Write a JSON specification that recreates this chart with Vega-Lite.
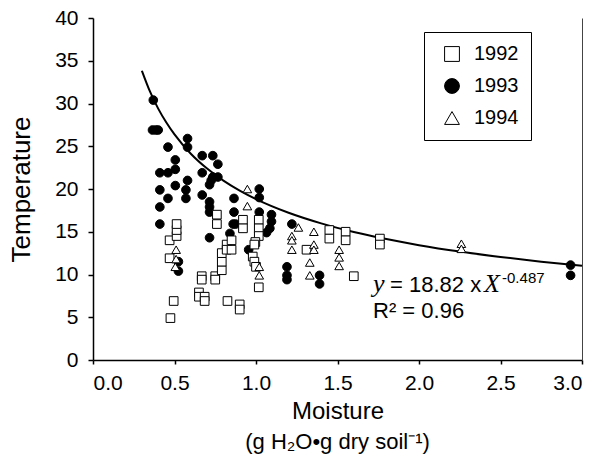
{
  "$schema": "https://vega.github.io/schema/vega-lite/v6.json",
  "width": 489,
  "height": 342,
  "autosize": "none",
  "padding": {"left": 93, "top": 18, "right": 17, "bottom": 100},
  "background": "white",
  "config": {
    "view": {"stroke": null},
    "font": "Liberation Sans",
    "axis": {"grid": false, "domainColor": "black", "tickColor": "black", "labelColor": "black", "titleColor": "black", "labelFont": "Liberation Sans", "titleFont": "Liberation Sans", "titleFontWeight": "normal"}
  },
  "title": {"text": "(g H₂O•g dry soil⁻¹)", "orient": "bottom", "fontSize": 22, "fontWeight": "normal", "font": "Liberation Sans", "color": "black", "offset": 9, "anchor": "middle"},
  "layer": [
    {
      "data": {"values": [
        {"moisture": 0.30, "temperature": 33.83},
        {"moisture": 0.35, "temperature": 31.38},
        {"moisture": 0.40, "temperature": 29.40},
        {"moisture": 0.45, "temperature": 27.77},
        {"moisture": 0.50, "temperature": 26.38},
        {"moisture": 0.60, "temperature": 24.13},
        {"moisture": 0.70, "temperature": 22.39},
        {"moisture": 0.80, "temperature": 20.98},
        {"moisture": 0.90, "temperature": 19.81},
        {"moisture": 1.00, "temperature": 18.82},
        {"moisture": 1.20, "temperature": 17.22},
        {"moisture": 1.40, "temperature": 15.98},
        {"moisture": 1.60, "temperature": 14.97},
        {"moisture": 1.80, "temperature": 14.14},
        {"moisture": 2.00, "temperature": 13.43},
        {"moisture": 2.25, "temperature": 12.68},
        {"moisture": 2.50, "temperature": 12.05},
        {"moisture": 2.75, "temperature": 11.50},
        {"moisture": 3.00, "temperature": 11.02}
      ]},
      "mark": {"type": "line", "color": "black", "strokeWidth": 2, "interpolate": "monotone"},
      "encoding": {
        "x": {"field": "moisture", "type": "quantitative", "scale": {"domain": [0, 3], "nice": false}},
        "y": {"field": "temperature", "type": "quantitative", "scale": {"domain": [0, 40], "nice": false},
              "axis": {"orient": "right", "labels": false, "ticks": false, "title": null, "domainColor": "#444", "domainWidth": 1}}
      }
    },
    {
      "data": {"values": [
        {"year": "1993", "moisture": 0.37, "temperature": 30.4},
        {"year": "1993", "moisture": 0.365, "temperature": 26.9},
        {"year": "1993", "moisture": 0.385, "temperature": 26.9},
        {"year": "1993", "moisture": 0.40, "temperature": 26.9},
        {"year": "1993", "moisture": 0.41, "temperature": 21.9},
        {"year": "1993", "moisture": 0.41, "temperature": 19.9},
        {"year": "1993", "moisture": 0.41, "temperature": 17.9},
        {"year": "1993", "moisture": 0.41, "temperature": 15.9},
        {"year": "1993", "moisture": 0.46, "temperature": 24.9},
        {"year": "1993", "moisture": 0.46, "temperature": 21.9},
        {"year": "1993", "moisture": 0.46, "temperature": 18.9},
        {"year": "1993", "moisture": 0.505, "temperature": 23.4},
        {"year": "1993", "moisture": 0.505, "temperature": 22.3},
        {"year": "1993", "moisture": 0.505, "temperature": 20.4},
        {"year": "1993", "moisture": 0.58, "temperature": 25.9},
        {"year": "1993", "moisture": 0.58, "temperature": 24.9},
        {"year": "1993", "moisture": 0.58, "temperature": 21.0},
        {"year": "1993", "moisture": 0.57, "temperature": 19.9},
        {"year": "1993", "moisture": 0.57, "temperature": 18.9},
        {"year": "1993", "moisture": 0.67, "temperature": 23.9},
        {"year": "1993", "moisture": 0.67, "temperature": 21.9},
        {"year": "1993", "moisture": 0.67, "temperature": 19.3},
        {"year": "1993", "moisture": 0.735, "temperature": 23.9},
        {"year": "1993", "moisture": 0.766, "temperature": 22.9},
        {"year": "1993", "moisture": 0.735, "temperature": 21.4},
        {"year": "1993", "moisture": 0.766, "temperature": 21.4},
        {"year": "1993", "moisture": 0.725, "temperature": 21.0},
        {"year": "1993", "moisture": 0.715, "temperature": 20.5},
        {"year": "1993", "moisture": 0.715, "temperature": 18.5},
        {"year": "1993", "moisture": 0.715, "temperature": 17.9},
        {"year": "1993", "moisture": 0.715, "temperature": 17.3},
        {"year": "1993", "moisture": 0.715, "temperature": 14.3},
        {"year": "1993", "moisture": 0.865, "temperature": 18.9},
        {"year": "1993", "moisture": 0.865, "temperature": 17.3},
        {"year": "1993", "moisture": 0.86, "temperature": 15.9},
        {"year": "1993", "moisture": 0.875, "temperature": 15.9},
        {"year": "1993", "moisture": 0.84, "temperature": 14.8},
        {"year": "1993", "moisture": 1.02, "temperature": 20.0},
        {"year": "1993", "moisture": 1.02, "temperature": 19.0},
        {"year": "1993", "moisture": 1.02, "temperature": 17.3},
        {"year": "1993", "moisture": 1.095, "temperature": 17.0},
        {"year": "1993", "moisture": 1.095, "temperature": 16.2},
        {"year": "1993", "moisture": 1.085, "temperature": 15.4},
        {"year": "1993", "moisture": 1.065, "temperature": 14.9},
        {"year": "1993", "moisture": 0.955, "temperature": 12.9},
        {"year": "1993", "moisture": 0.524, "temperature": 11.5},
        {"year": "1993", "moisture": 0.524, "temperature": 10.4},
        {"year": "1993", "moisture": 1.22, "temperature": 15.9},
        {"year": "1993", "moisture": 1.19, "temperature": 10.9},
        {"year": "1993", "moisture": 1.19, "temperature": 9.9},
        {"year": "1993", "moisture": 1.19, "temperature": 9.4},
        {"year": "1993", "moisture": 1.39, "temperature": 9.9},
        {"year": "1993", "moisture": 1.39, "temperature": 8.9},
        {"year": "1993", "moisture": 2.93, "temperature": 11.1},
        {"year": "1993", "moisture": 2.93, "temperature": 9.9},
        {"year": "1992", "moisture": 0.475, "temperature": 4.9},
        {"year": "1992", "moisture": 0.495, "temperature": 6.9},
        {"year": "1992", "moisture": 0.47, "temperature": 11.9},
        {"year": "1992", "moisture": 0.47, "temperature": 14.0},
        {"year": "1992", "moisture": 0.513, "temperature": 14.5},
        {"year": "1992", "moisture": 0.513, "temperature": 15.2},
        {"year": "1992", "moisture": 0.513, "temperature": 15.9},
        {"year": "1992", "moisture": 0.65, "temperature": 7.9},
        {"year": "1992", "moisture": 0.65, "temperature": 7.4},
        {"year": "1992", "moisture": 0.685, "temperature": 7.4},
        {"year": "1992", "moisture": 0.685, "temperature": 6.9},
        {"year": "1992", "moisture": 0.667, "temperature": 9.8},
        {"year": "1992", "moisture": 0.667, "temperature": 9.4},
        {"year": "1992", "moisture": 0.75, "temperature": 9.8},
        {"year": "1992", "moisture": 0.75, "temperature": 9.4},
        {"year": "1992", "moisture": 0.79, "temperature": 10.5},
        {"year": "1992", "moisture": 0.79, "temperature": 11.5},
        {"year": "1992", "moisture": 0.79, "temperature": 12.5},
        {"year": "1992", "moisture": 0.82, "temperature": 13.5},
        {"year": "1992", "moisture": 0.82, "temperature": 12.9},
        {"year": "1992", "moisture": 0.85, "temperature": 14.0},
        {"year": "1992", "moisture": 0.85, "temperature": 12.9},
        {"year": "1992", "moisture": 0.76, "temperature": 15.9},
        {"year": "1992", "moisture": 0.76, "temperature": 17.0},
        {"year": "1992", "moisture": 0.825, "temperature": 6.9},
        {"year": "1992", "moisture": 0.9, "temperature": 6.5},
        {"year": "1992", "moisture": 0.9, "temperature": 5.9},
        {"year": "1992", "moisture": 0.92, "temperature": 16.4},
        {"year": "1992", "moisture": 0.92, "temperature": 15.4},
        {"year": "1992", "moisture": 1.017, "temperature": 16.4},
        {"year": "1992", "moisture": 1.017, "temperature": 15.4},
        {"year": "1992", "moisture": 1.017, "temperature": 14.5},
        {"year": "1992", "moisture": 0.996, "temperature": 13.8},
        {"year": "1992", "moisture": 0.99, "temperature": 13.5},
        {"year": "1992", "moisture": 0.98, "temperature": 12.1},
        {"year": "1992", "moisture": 0.99, "temperature": 11.5},
        {"year": "1992", "moisture": 1.0, "temperature": 10.9},
        {"year": "1992", "moisture": 1.017, "temperature": 8.5},
        {"year": "1992", "moisture": 1.31, "temperature": 12.9},
        {"year": "1992", "moisture": 1.45, "temperature": 15.2},
        {"year": "1992", "moisture": 1.45, "temperature": 14.2},
        {"year": "1992", "moisture": 1.55, "temperature": 15.0},
        {"year": "1992", "moisture": 1.55, "temperature": 14.0},
        {"year": "1992", "moisture": 1.6, "temperature": 9.8},
        {"year": "1992", "moisture": 1.76, "temperature": 14.2},
        {"year": "1992", "moisture": 1.76, "temperature": 13.5},
        {"year": "1994", "moisture": 0.947, "temperature": 20.0},
        {"year": "1994", "moisture": 0.947, "temperature": 18.0},
        {"year": "1994", "moisture": 0.51, "temperature": 12.9},
        {"year": "1994", "moisture": 0.51, "temperature": 11.8},
        {"year": "1994", "moisture": 0.505, "temperature": 10.9},
        {"year": "1994", "moisture": 1.02, "temperature": 10.9},
        {"year": "1994", "moisture": 1.02, "temperature": 9.9},
        {"year": "1994", "moisture": 1.26, "temperature": 15.5},
        {"year": "1994", "moisture": 1.355, "temperature": 15.0},
        {"year": "1994", "moisture": 1.22, "temperature": 14.5},
        {"year": "1994", "moisture": 1.22, "temperature": 14.0},
        {"year": "1994", "moisture": 1.22, "temperature": 12.9},
        {"year": "1994", "moisture": 1.355, "temperature": 13.5},
        {"year": "1994", "moisture": 1.355, "temperature": 12.9},
        {"year": "1994", "moisture": 1.33, "temperature": 11.4},
        {"year": "1994", "moisture": 1.33, "temperature": 9.9},
        {"year": "1994", "moisture": 1.51, "temperature": 12.9},
        {"year": "1994", "moisture": 1.51, "temperature": 12.0},
        {"year": "1994", "moisture": 1.51, "temperature": 11.0},
        {"year": "1994", "moisture": 2.26, "temperature": 13.6},
        {"year": "1994", "moisture": 2.26, "temperature": 13.0}
      ]},
      "mark": {"type": "point", "filled": true, "size": 75, "opacity": 1},
      "encoding": {
        "x": {"field": "moisture", "type": "quantitative", "scale": {"domain": [0, 3], "nice": false},
              "axis": {"values": [0, 0.5, 1, 1.5, 2, 2.5, 3], "format": ".1f", "title": "Moisture", "labelFontSize": 21, "titleFontSize": 24, "tickSize": 4, "labelPadding": 8, "titlePadding": 6, "domainWidth": 1.5, "tickWidth": 1.5}},
        "y": {"field": "temperature", "type": "quantitative", "scale": {"domain": [0, 40], "nice": false},
              "axis": {"orient": "left", "values": [0, 5, 10, 15, 20, 25, 30, 35, 40], "title": "Temperature", "labelFontSize": 21, "titleFontSize": 26, "tickSize": 5, "labelPadding": 10, "titlePadding": 20, "domainWidth": 1.5, "tickWidth": 1.5}},
        "shape": {"field": "year", "type": "nominal", "scale": {"domain": ["1992", "1993", "1994"], "range": ["square", "circle", "triangle-up"]},
                  "legend": {"title": null, "orient": "none", "legendX": 331, "legendY": 14, "strokeColor": "black", "fillColor": "white", "padding": 12, "labelFontSize": 20, "labelColor": "black", "symbolSize": 220, "rowPadding": 12, "labelOffset": 12, "symbolStrokeWidth": 1.5, "symbolOffset": 6}},
        "fill": {"field": "year", "type": "nominal", "scale": {"domain": ["1992", "1993", "1994"], "range": ["white", "black", "white"]},
                 "legend": {"title": null, "orient": "none", "legendX": 331, "legendY": 14, "strokeColor": "black", "fillColor": "white", "padding": 12, "labelFontSize": 20, "labelColor": "black", "symbolSize": 220, "rowPadding": 12, "labelOffset": 12, "symbolStrokeWidth": 1.5, "symbolOffset": 6}},
        "stroke": {"field": "year", "type": "nominal", "scale": {"domain": ["1992", "1993", "1994"], "range": ["black", "black", "black"]},
                   "legend": {"title": null, "orient": "none", "legendX": 331, "legendY": 14, "strokeColor": "black", "fillColor": "white", "padding": 12, "labelFontSize": 20, "labelColor": "black", "symbolSize": 220, "rowPadding": 12, "labelOffset": 12, "symbolStrokeWidth": 1.5, "symbolOffset": 6}},
        "strokeWidth": {"field": "year", "type": "ordinal", "scale": {"domain": ["1992", "1993", "1994"], "range": [1, 1, 2]}, "legend": null}
      }
    },
    {
      "data": {"values": [{}]},
      "mark": {"type": "text", "text": "y", "font": "Liberation Serif", "fontStyle": "italic", "fontSize": 26, "align": "left", "baseline": "alphabetic", "color": "black"},
      "encoding": {
        "x": {"datum": 1.718, "type": "quantitative", "scale": {"domain": [0, 3], "nice": false}},
        "y": {"datum": 7.95, "type": "quantitative", "scale": {"domain": [0, 40], "nice": false}, "axis": null}
      }
    },
    {
      "data": {"values": [{}]},
      "mark": {"type": "text", "text": "= 18.82 x", "font": "Liberation Sans", "fontSize": 22, "align": "left", "baseline": "alphabetic", "color": "black", "dx": 17},
      "encoding": {
        "x": {"datum": 1.718, "type": "quantitative", "scale": {"domain": [0, 3], "nice": false}},
        "y": {"datum": 7.95, "type": "quantitative", "scale": {"domain": [0, 40], "nice": false}, "axis": null}
      }
    },
    {
      "data": {"values": [{}]},
      "mark": {"type": "text", "text": "X", "font": "Liberation Serif", "fontStyle": "italic", "fontSize": 26, "align": "left", "baseline": "alphabetic", "color": "black", "dx": 111},
      "encoding": {
        "x": {"datum": 1.718, "type": "quantitative", "scale": {"domain": [0, 3], "nice": false}},
        "y": {"datum": 7.95, "type": "quantitative", "scale": {"domain": [0, 40], "nice": false}, "axis": null}
      }
    },
    {
      "data": {"values": [{}]},
      "mark": {"type": "text", "text": "-0.487", "font": "Liberation Sans", "fontSize": 15, "align": "left", "baseline": "alphabetic", "color": "black", "dx": 129, "dy": -9},
      "encoding": {
        "x": {"datum": 1.718, "type": "quantitative", "scale": {"domain": [0, 3], "nice": false}},
        "y": {"datum": 7.95, "type": "quantitative", "scale": {"domain": [0, 40], "nice": false}, "axis": null}
      }
    },
    {
      "data": {"values": [{}]},
      "mark": {"type": "text", "text": "R² = 0.96", "font": "Liberation Sans", "fontSize": 22, "align": "left", "baseline": "alphabetic", "color": "black"},
      "encoding": {
        "x": {"datum": 1.718, "type": "quantitative", "scale": {"domain": [0, 3], "nice": false}},
        "y": {"datum": 4.91, "type": "quantitative", "scale": {"domain": [0, 40], "nice": false}, "axis": null}
      }
    }
  ],
  "resolve": {"axis": {"y": "independent"}}
}
